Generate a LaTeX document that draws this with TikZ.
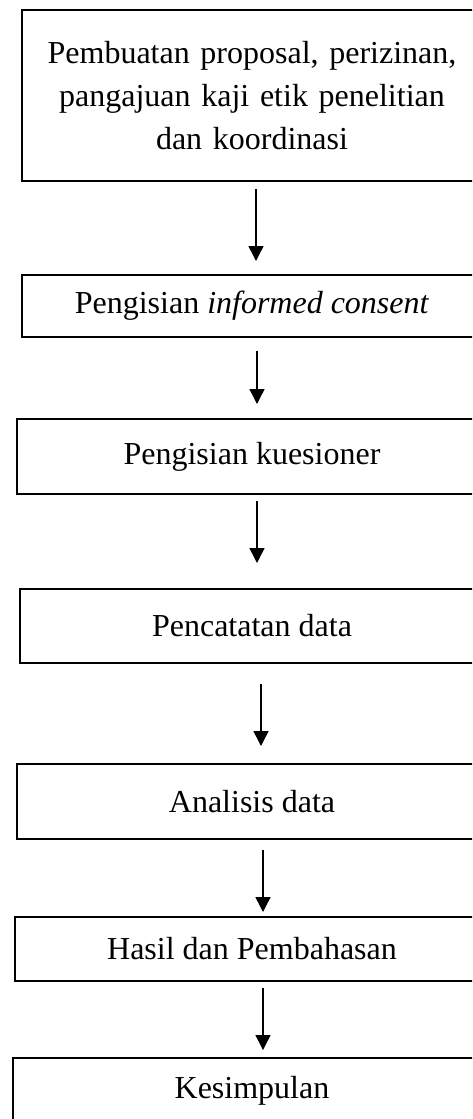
\documentclass[tikz,border=0pt]{standalone}
\usepackage{fontspec}
\setmainfont{Liberation Serif}
\usepackage{tikz}
\usetikzlibrary{arrows.meta, positioning}
\tikzset{
  stage/.style={rectangle, draw=black, line width=2pt, align=center,
    inner sep=0pt, font=\fontsize{32}{43}\selectfont},
  flow/.style={-{Triangle[width=15pt, length=15pt]}, line width=1.4pt, color=black}
}
\begin{document}
\begin{tikzpicture}[x=1pt, y=-1pt]
  % Page frame
  \clip (0,0) rectangle (472,1119);
  \fill[white] (0,0) rectangle (472,1119);

  % Stages
  \node[stage, minimum width=460pt, minimum height=171pt, text width=440pt] (proposal) at (252,95.5)
    {Pembuatan proposal, perizinan,\\ pangajuan kaji etik penelitian\\ dan koordinasi};
  \node[stage, minimum width=460pt, minimum height=62pt] (consent) at (252,306)
    {Pengisian \textit{informed consent}};
  \node[stage, minimum width=470pt, minimum height=75pt] (kuesioner) at (252,456.5)
    {Pengisian kuesioner};
  \node[stage, minimum width=464pt, minimum height=74pt] (pencatatan) at (252,626)
    {Pencatatan data};
  \node[stage, minimum width=470pt, minimum height=75pt] (analisis) at (252,801.5)
    {Analisis data};
  \node[stage, minimum width=474pt, minimum height=64pt] (hasil) at (252,949)
    {Hasil dan Pembahasan};
  \node[stage, minimum width=478pt, minimum height=66pt] (kesimpulan) at (252,1091)
    {Kesimpulan};

  % Connectors
  \draw[flow, shorten <=7pt, shorten >=13pt] ([xshift=4pt]proposal.south) -- ([xshift=4pt]consent.north);
  \draw[flow, shorten <=13pt, shorten >=14pt] ([xshift=5pt]consent.south) -- ([xshift=5pt]kuesioner.north);
  \draw[flow, shorten <=6pt, shorten >=25pt] ([xshift=5pt]kuesioner.south) -- ([xshift=5pt]pencatatan.north);
  \draw[flow, shorten <=20pt, shorten >=17pt] ([xshift=9pt]pencatatan.south) -- ([xshift=9pt]analisis.north);
  \draw[flow, shorten <=10pt, shorten >=4pt] ([xshift=11pt]analisis.south) -- ([xshift=11pt]hasil.north);
  \draw[flow, shorten <=6pt, shorten >=7pt] ([xshift=11pt]hasil.south) -- ([xshift=11pt]kesimpulan.north);
\end{tikzpicture}
\end{document}
